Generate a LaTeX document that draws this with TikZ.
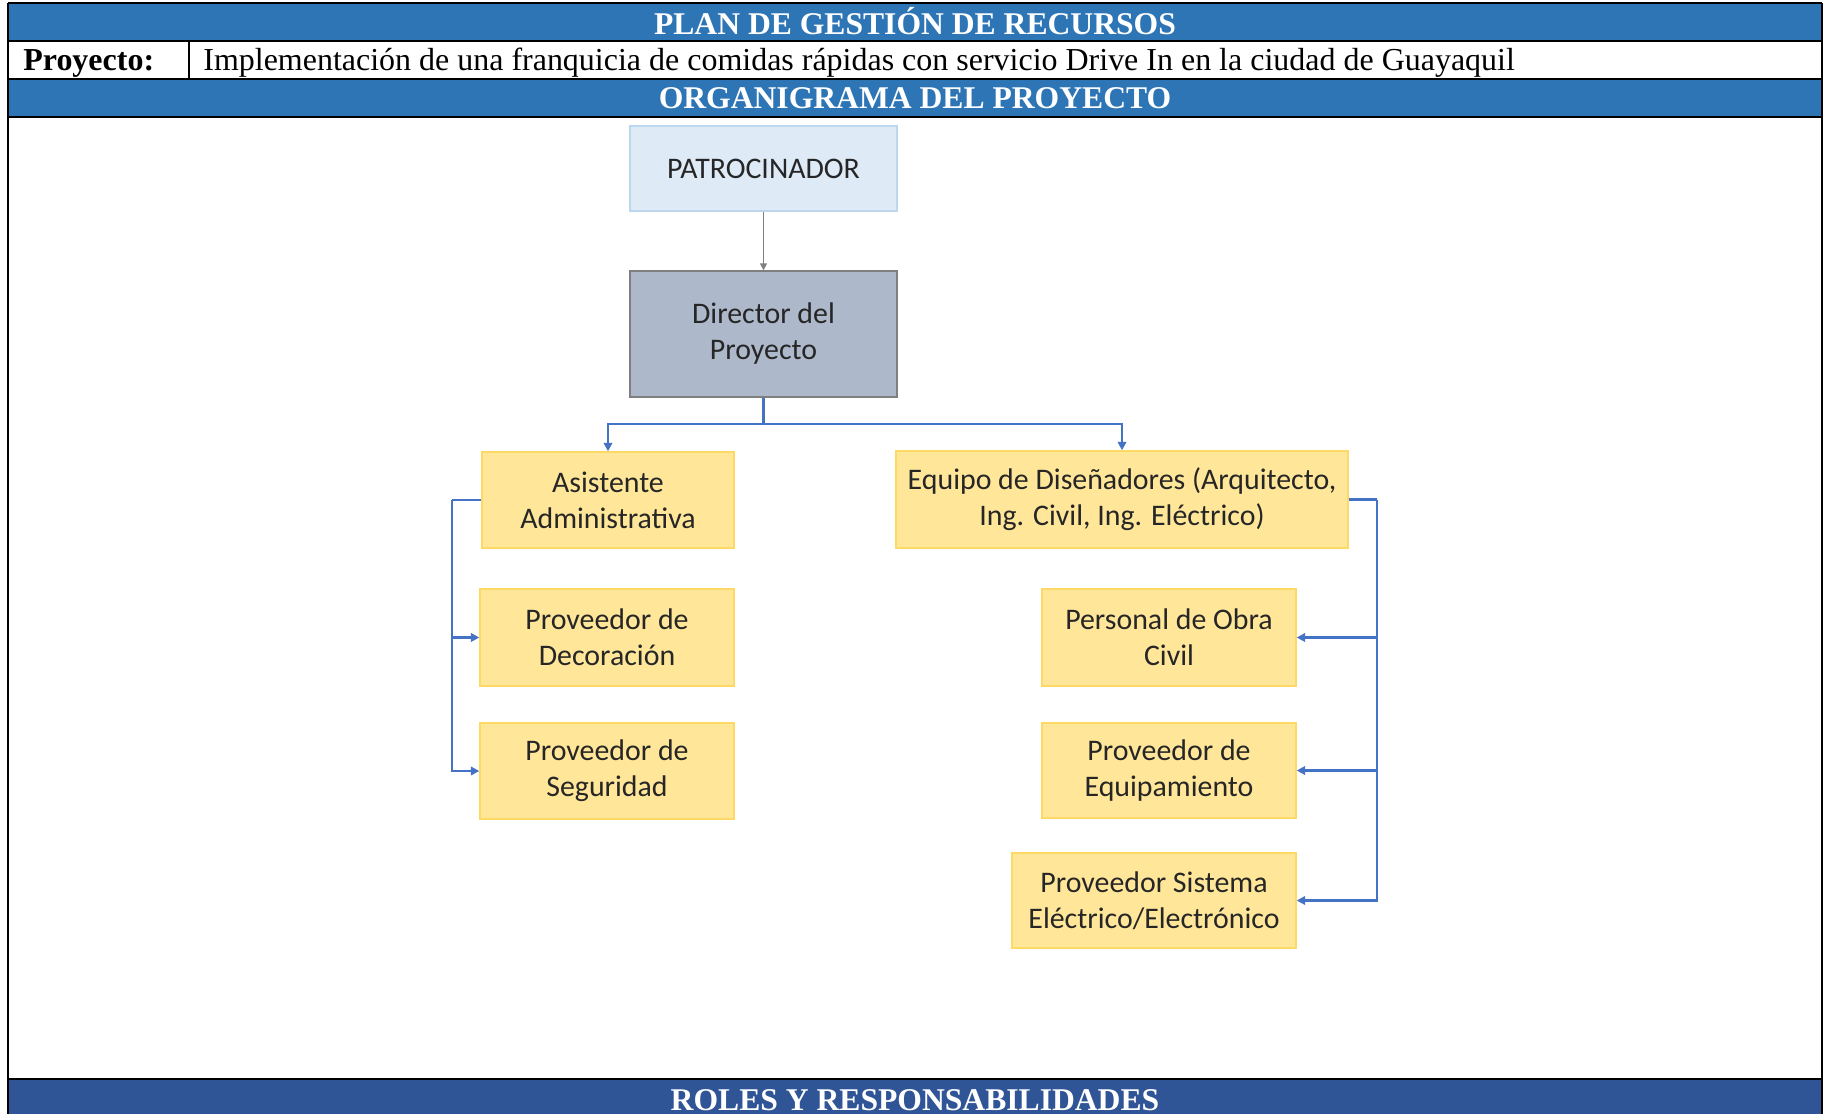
\documentclass[tikz,border=0pt]{standalone}
\usepackage{fontspec}
\setmainfont{Liberation Serif}
\newfontfamily\boxfont{Carlito}
\usetikzlibrary{positioning, arrows.meta}

\definecolor{bandblue}{HTML}{2E75B6}
\definecolor{banddark}{HTML}{2F5597}
\definecolor{patrofill}{HTML}{DEEBF7}
\definecolor{patroline}{HTML}{BDD7EE}
\definecolor{dirfill}{HTML}{ADB9CA}
\definecolor{dirline}{HTML}{7F7F7F}
\definecolor{boxfill}{HTML}{FFE699}
\definecolor{boxline}{HTML}{FFD966}
\definecolor{linkblue}{HTML}{4472C4}
\definecolor{boxtext}{HTML}{262626}

\begin{document}
\begin{tikzpicture}[x=0.02cm, y=-0.02cm,
    bandtext/.style={text=white, font=\bfseries\fontsize{18}{20}\selectfont},
    rowtext/.style={text=black, font=\fontsize{18.2}{20}\selectfont, anchor=base west, inner sep=0pt},
    unit/.style={draw=boxline, fill=boxfill, line width=0.8pt, align=center, inner sep=0pt,
      text=boxtext, font=\boxfont\fontsize{17}{20.5}\selectfont},
    link/.style={draw=linkblue, line width=1.3pt},
    linkarrow/.style={link, -{Triangle[length=1.7mm, width=1.7mm]}}]
    \useasboundingbox (0,0) rectangle (1828,1114);
    \clip (0,0) rectangle (1828,1114);

    % table frame and bands
    \fill[bandblue] (8,3) rectangle (1822,41);
    \fill[bandblue] (8,79) rectangle (1822,117);
    \fill[banddark] (8,1079) rectangle (1822,1114);
    \draw[line width=1.5pt] (8,3) -- (1822,3);
    \draw[line width=1.5pt] (8,41) -- (1822,41);
    \draw[line width=0.6pt] (8,79) -- (1822,79);
    \draw[line width=1.2pt] (8,117) -- (1822,117);
    \draw[line width=1.5pt] (8,1079) -- (1822,1079);
    \draw[line width=1.1pt] (8,3) -- (8,1114);
    \draw[line width=1.1pt] (1822,3) -- (1822,1114);
    \draw[line width=0.6pt] (189,41) -- (189,79);

    \node[bandtext] (plan) at (915,21) {PLAN DE GESTIÓN DE RECURSOS};
    \node[rowtext, font=\bfseries\fontsize{18.2}{20}\selectfont] (proy) at (23,71) {Proyecto:};
    \node[rowtext] (proytxt) at (203,71) {Implementación de una franquicia de comidas rápidas con servicio Drive In en la ciudad de Guayaquil};
    \node[bandtext] (organ) at (915,98.5) {ORGANIGRAMA DEL PROYECTO};
    \node[bandtext] (roles) at (915,1100) {ROLES Y RESPONSABILIDADES};

    % organigrama
    \node[unit, fill=patrofill, draw=patroline, minimum width=5.34cm, minimum height=1.7cm] (patro) at (763.5,168.5) {PATROCINADOR};
    \node[unit, fill=dirfill, draw=dirline, minimum width=5.34cm, minimum height=2.52cm] (dir) at (763.5,334) {Director del\\Proyecto};
    \node[unit, minimum width=5.04cm, minimum height=1.92cm] (asis) at (608,500) {Asistente\\Administrativa};
    \node[unit, minimum width=5.08cm, minimum height=1.94cm] (deco) at (607,637.5) {Proveedor de\\Decoración};
    \node[unit, minimum width=5.08cm, minimum height=1.92cm] (segu) at (607,771) {Proveedor de\\Seguridad};
    \node[unit, minimum width=9.04cm, minimum height=1.94cm] (equipo) at (1122,499.5) {Equipo de Diseñadores (Arquitecto,\\Ing. Civil, Ing. Eléctrico)};
    \node[unit, minimum width=5.08cm, minimum height=1.94cm] (obra) at (1169,637.5) {Personal de Obra\\Civil};
    \node[unit, minimum width=5.08cm, minimum height=1.9cm] (equipa) at (1169,770.5) {Proveedor de\\Equipamiento};
    \node[unit, minimum width=5.68cm, minimum height=1.9cm] (sistema) at (1154,900.5) {Proveedor Sistema\\Eléctrico/Electrónico};

    \draw[draw=dirline, line width=0.8pt, -{Triangle[length=1.4mm, width=1.4mm]}] (patro) -- (dir);
    \coordinate (split) at (763.5,424);
    \draw[link] (dir.south) -- (split);
    \draw[linkarrow] (split) -| (asis.north);
    \draw[linkarrow] (split) -| (equipo.north);

    \coordinate (leftbus) at (452,500);
    \draw[link] (asis.west) -- (leftbus);
    \draw[linkarrow] (leftbus) |- (deco.west);
    \draw[linkarrow] (leftbus) |- (segu.west);

    \coordinate (rightbus) at (1377,499.5);
    \draw[link] (equipo.east) -- (rightbus);
    \draw[linkarrow] (rightbus) |- (obra.east);
    \draw[linkarrow] (rightbus) |- (equipa.east);
    \draw[linkarrow] (rightbus) |- (sistema.east);
\end{tikzpicture}
\end{document}
